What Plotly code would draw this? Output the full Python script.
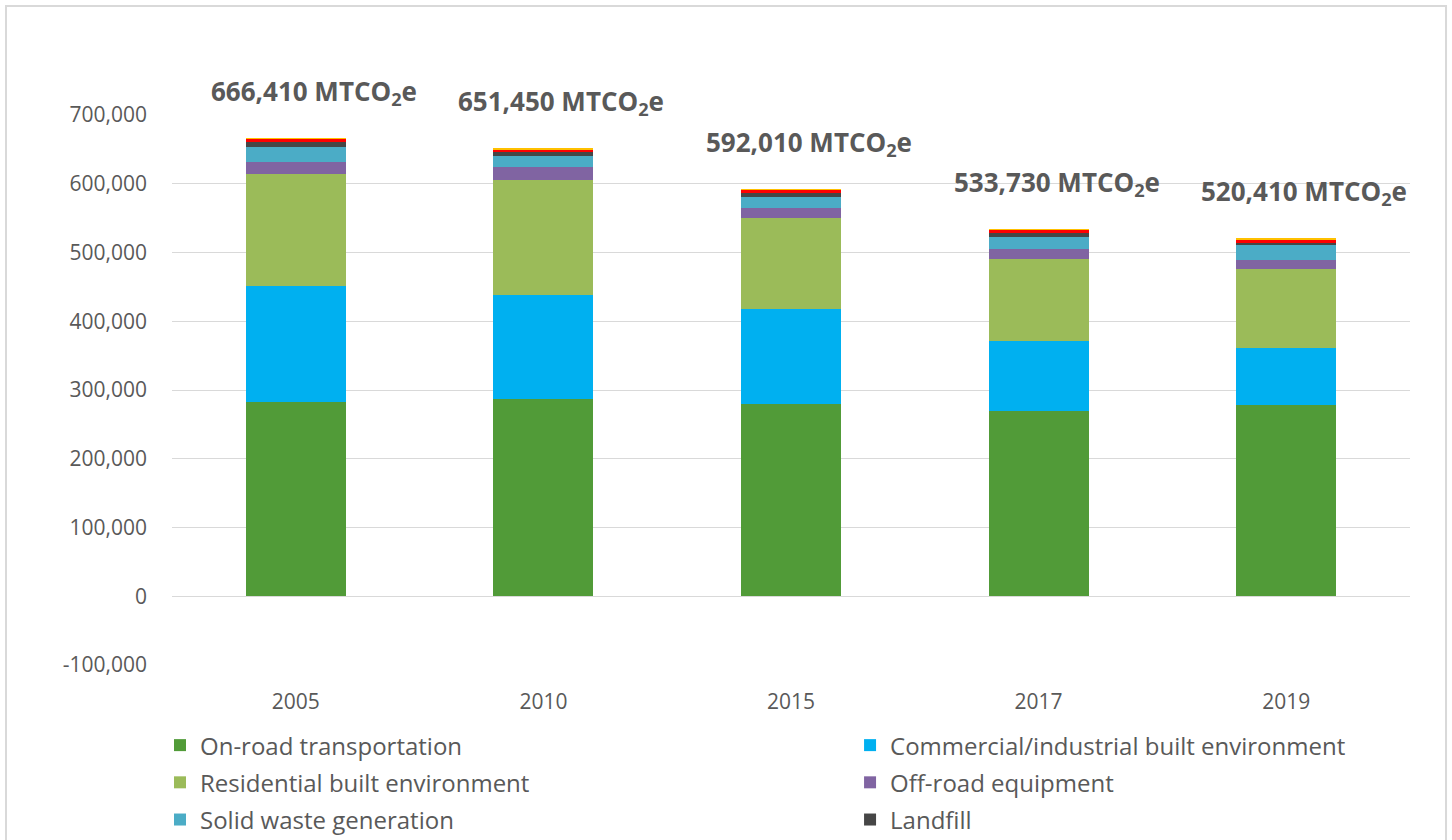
import plotly.graph_objects as go

years = ["2005", "2010", "2015", "2017", "2019"]
totals = [666410, 651450, 592010, 533730, 520410]
total_labels = ["666,410 MTCO<sub>2</sub>e", "651,450 MTCO<sub>2</sub>e", "592,010 MTCO<sub>2</sub>e",
                "533,730 MTCO<sub>2</sub>e", "520,410 MTCO<sub>2</sub>e"]

y_tick_values = [-100000, 0, 100000, 200000, 300000, 400000, 500000, 600000, 700000]
y_tick_labels = ["-100,000", "0", "100,000", "200,000", "300,000", "400,000", "500,000", "600,000", "700,000"]

on_road = [282400, 286800, 279710, 269300, 278000]
commercial = [168800, 151300, 138300, 101900, 83000]
residential = [163100, 167450, 132400, 119330, 114310]
off_road = [17400, 18400, 15000, 14600, 13500]
solid_waste = [22300, 17000, 15600, 17500, 22400]
landfill = [6400, 5500, 6000, 5800, 2900]
wastewater = [4810, 4000, 4000, 4300, 5300]
water = [1200, 1000, 1000, 1000, 1000]

# name, values, colour, legend column (None = not shown)
series = [
    ("On-road transportation", on_road, "#519B38", "legend"),
    ("Commercial/industrial built environment", commercial, "#00B0F0", "legend2"),
    ("Residential built environment", residential, "#9BBB59", "legend"),
    ("Off-road equipment", off_road, "#8064A2", "legend2"),
    ("Solid waste generation", solid_waste, "#4BACC6", "legend"),
    ("Landfill", landfill, "#464646", "legend2"),
    ("Wastewater treatment", wastewater, "#FF0000", None),
    ("Water", water, "#FFC000", None),
]

fig = go.Figure()
for i, (name, vals, color, leg) in enumerate(series):
    fig.add_trace(go.Bar(x=list(years), y=list(vals), name=name,
                         marker=dict(color=color, line=dict(width=0)),
                         showlegend=leg is not None,
                         legend=leg if leg else "legend",
                         legendgroup="g%d" % i))

# category axis: annotation positions given by category index
for idx, (tot, lab) in enumerate(zip(totals, total_labels)):
    fig.add_annotation(x=idx, y=tot, xref="x", yref="y", text="<b>" + lab + "</b>",
                       showarrow=False, xshift=18, yshift=46, xanchor="center", yanchor="middle",
                       font=dict(family="Open Sans", size=26, color="#595959"))

fig.add_shape(type="rect", xref="paper", yref="paper", x0=-0.1341, x1=1.0291, y0=-0.5, y1=1.198,
              line=dict(color="#D9D9D9", width=2), fillcolor="rgba(0,0,0,0)", layer="below")

legend_common = dict(orientation="v", yanchor="top", xanchor="left", traceorder="grouped",
                     tracegroupgap=3, bgcolor="rgba(0,0,0,0)",
                     font=dict(family="Open Sans", size=24, color="#595959"))

fig.update_layout(
    width=1452, height=840,
    margin=dict(l=172, r=42, t=115, b=175, autoexpand=False),
    barmode="stack", bargap=0.596,
    plot_bgcolor="white", paper_bgcolor="white",
    font=dict(family="Open Sans", color="#595959", size=21),
    xaxis=dict(type="category", categoryorder="array", categoryarray=years,
               range=[-0.5, len(years) - 0.5], autorange=False,
               showgrid=False, showline=False, ticks="", ticklabelstandoff=22,
               tickfont=dict(size=21, color="#595959")),
    yaxis=dict(range=[-100000, 700000], autorange=False,
               tickmode="array", tickvals=y_tick_values, ticktext=y_tick_labels,
               showgrid=True, gridcolor="#D9D9D9", gridwidth=1,
               zeroline=True, zerolinecolor="#D9D9D9", zerolinewidth=1, showline=False,
               ticklabelstandoff=24, tickfont=dict(size=21, color="#595959")),
    legend=dict(x=-0.0097, y=-0.1055, **legend_common),
    legend2=dict(x=0.5477, y=-0.1055, **legend_common),
    showlegend=True,
)

fig.write_html("out.html", config={"displayModeBar": False},
               post_script="document.body.style.margin='0';document.body.style.padding='0';")
